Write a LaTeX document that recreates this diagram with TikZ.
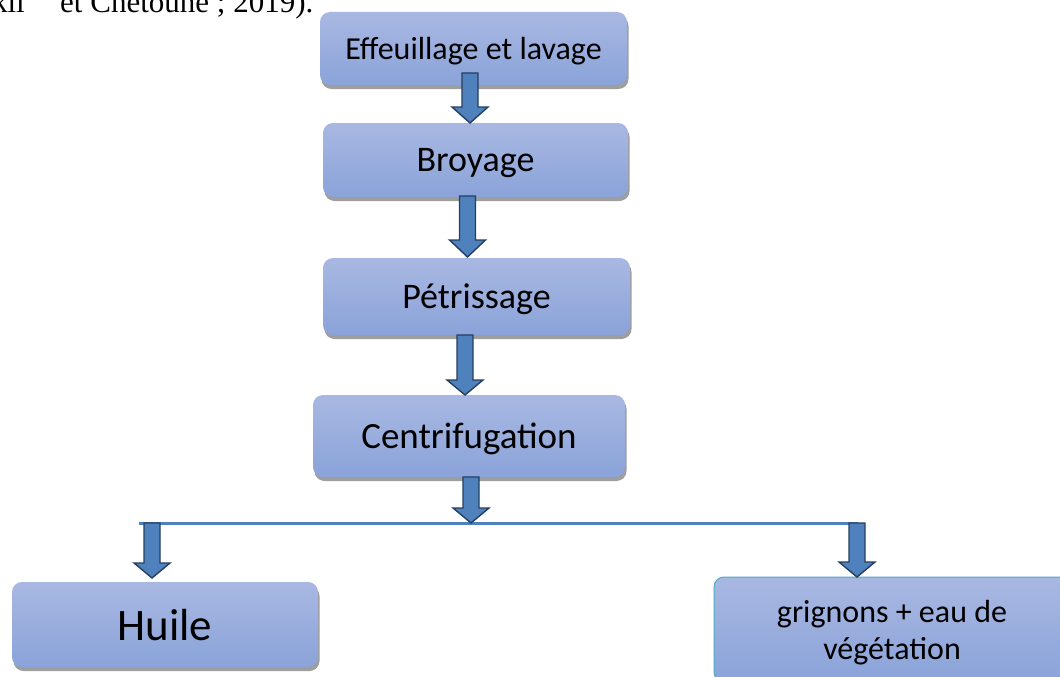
\documentclass[tikz,border=0pt]{standalone}
\usepackage{fontspec}
\setmainfont{Liberation Serif}
\newfontfamily\calfont{Carlito}
\usetikzlibrary{shadows}
\definecolor{boxtop}{HTML}{A9B8E2}
\definecolor{boxbot}{HTML}{8AA3D9}
\definecolor{arrfill}{HTML}{4F81BD}
\definecolor{arrline}{HTML}{243F60}
\definecolor{mytealc}{HTML}{4BACC6}
\tikzset{
  stepbox/.style={rounded corners=10pt, top color=boxtop, bottom color=boxbot, draw=none,
    inner sep=0pt, font=\calfont, text=black, text depth=0pt,
    drop shadow={shadow xshift=1.5pt, shadow yshift=-4pt, fill=black!38, opacity=1}},
  barrow/.style={fill=arrfill, draw=arrline, line width=1.4pt, line join=miter},
  hline/.style={draw=arrfill, line width=3pt}
}
% block arrow: x centre, y top, y where head starts, y tip
\newcommand\blkarrow[4]{%
  \path[barrow] (#1-8,#2) -- (#1+8,#2) -- (#1+8,#3) -- (#1+18,#3) -- (#1,#4) -- (#1-18,#3) -- (#1-8,#3) -- cycle;}
\begin{document}
\begin{tikzpicture}[x=1pt,y=-1pt]
\useasboundingbox (0,0) rectangle (1060,677);
\clip (0,0) rectangle (1060,677);
\node[anchor=base east, inner sep=0pt, font=\fontsize{31}{36}\selectfont] (ref1) at (25,13) {kli};
\node[anchor=base west, inner sep=0pt, font=\fontsize{31}{36}\selectfont] (ref2) at (60,13) {et Chetoune ; 2019).};

\node[stepbox, minimum width=307pt, minimum height=73pt, font=\calfont\fontsize{32}{36}\selectfont] (e) at (473.5,48.5) {Effeuillage et lavage};
\node[stepbox, minimum width=305pt, minimum height=74pt, font=\calfont\fontsize{36}{40}\selectfont] (b) at (475.5,160) {Broyage};
\node[stepbox, minimum width=307pt, minimum height=77pt, font=\calfont\fontsize{36}{40}\selectfont] (p) at (476.5,296.5) {Pétrissage};
\node[stepbox, minimum width=312pt, minimum height=82pt, font=\calfont\fontsize{37}{40}\selectfont] (c) at (469,436) {Centrifugation};
\node[stepbox, minimum width=306pt, minimum height=85pt, font=\calfont\fontsize{45}{50}\selectfont] (h) at (165,624.5) {Huile};
\node[stepbox, draw=mytealc, line width=1pt, minimum width=356pt, minimum height=105pt, align=center,
  font=\calfont\fontsize{32}{37}\selectfont] (g) at (892,629.5) {grignons + eau de\\végétation};

\coordinate (lL) at (139,523);
\coordinate (lR) at (858,523);
\path[hline] (lL) -- (lR);

\blkarrow{470}{73}{107}{123}
\blkarrow{467.5}{196}{240}{257}
\blkarrow{465}{335}{380}{395}
\blkarrow{471}{477}{508}{523}
\blkarrow{152}{523}{563}{578}
\blkarrow{857}{523}{562}{577}
\end{tikzpicture}
\end{document}
